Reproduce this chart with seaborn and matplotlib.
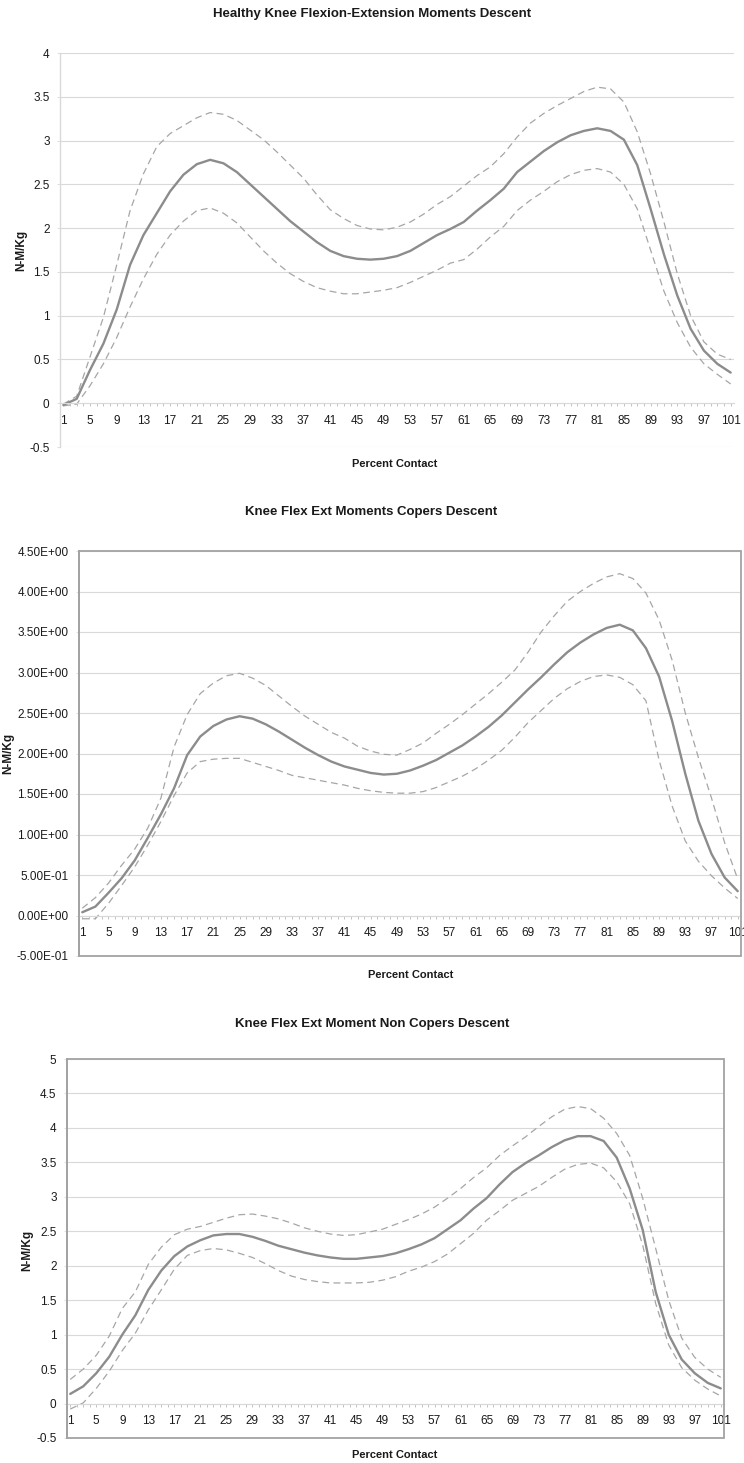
import numpy as np
import pandas as pd
import matplotlib
matplotlib.use("Agg")
import matplotlib.pyplot as plt
import seaborn as sns
from matplotlib.ticker import FixedLocator, MultipleLocator, FuncFormatter
from matplotlib.patches import Rectangle

sns.set_style("white")
plt.rcParams["font.family"] = ["Liberation Sans", "DejaVu Sans"]

# Percent of contact phase (every second sample)
percent = list(range(1, 102, 2))
x_tick_labels = list(range(1, 102, 4))

# Healthy group: mean and +/- 1 SD bands (N-M/Kg)
healthy_mean = [-0.02, 0.05, 0.38, 0.68, 1.07, 1.58, 1.92, 2.17, 2.42, 2.61,
                2.73, 2.78, 2.74, 2.64, 2.50, 2.36, 2.22, 2.08, 1.96, 1.84,
                1.74, 1.68, 1.65, 1.64, 1.65, 1.68, 1.74, 1.83, 1.92, 1.99,
                2.07, 2.20, 2.32, 2.45, 2.64, 2.76, 2.88, 2.98, 3.06, 3.11,
                3.14, 3.11, 3.01, 2.72, 2.22, 1.70, 1.23, 0.85, 0.60, 0.45,
                0.35]
healthy_upper = [-0.01, 0.08, 0.53, 0.98, 1.58, 2.20, 2.62, 2.93, 3.08, 3.17,
                 3.26, 3.32, 3.30, 3.23, 3.12, 3.01, 2.87, 2.72, 2.57, 2.38,
                 2.21, 2.11, 2.03, 1.99, 1.98, 2.01, 2.07, 2.16, 2.27, 2.36,
                 2.48, 2.60, 2.70, 2.85, 3.04, 3.20, 3.31, 3.40, 3.48, 3.56,
                 3.61, 3.59, 3.44, 3.10, 2.62, 2.07, 1.48, 1.00, 0.70, 0.56,
                 0.50]
healthy_lower = [-0.03, -0.01, 0.20, 0.45, 0.75, 1.10, 1.42, 1.70, 1.92, 2.08,
                 2.20, 2.23, 2.17, 2.06, 1.90, 1.74, 1.60, 1.48, 1.39, 1.32,
                 1.28, 1.25, 1.25, 1.27, 1.29, 1.32, 1.38, 1.45, 1.52, 1.60,
                 1.64, 1.76, 1.90, 2.02, 2.20, 2.32, 2.42, 2.53, 2.61, 2.66,
                 2.68, 2.64, 2.50, 2.22, 1.75, 1.28, 0.92, 0.64, 0.45, 0.33,
                 0.22]

# Copers group
copers_mean = [0.04, 0.11, 0.28, 0.46, 0.68, 0.96, 1.25, 1.57, 1.98, 2.21,
               2.34, 2.42, 2.46, 2.43, 2.36, 2.27, 2.17, 2.07, 1.98, 1.90,
               1.84, 1.80, 1.76, 1.74, 1.75, 1.79, 1.85, 1.92, 2.01, 2.10,
               2.21, 2.33, 2.47, 2.63, 2.79, 2.94, 3.10, 3.25, 3.37, 3.47,
               3.55, 3.59, 3.52, 3.30, 2.95, 2.40, 1.75, 1.17, 0.76, 0.47,
               0.30]
copers_upper = [0.09, 0.22, 0.40, 0.62, 0.82, 1.08, 1.45, 2.08, 2.48, 2.74,
                2.87, 2.96, 2.99, 2.93, 2.84, 2.71, 2.58, 2.46, 2.36, 2.26,
                2.19, 2.09, 2.03, 1.99, 1.98, 2.05, 2.13, 2.25, 2.36, 2.48,
                2.61, 2.74, 2.88, 3.03, 3.25, 3.50, 3.70, 3.88, 4.00, 4.10,
                4.18, 4.22, 4.16, 3.98, 3.65, 3.15, 2.50, 1.95, 1.45, 0.90,
                0.45]
copers_lower = [-0.04, -0.04, 0.15, 0.37, 0.60, 0.87, 1.16, 1.48, 1.76, 1.90,
                1.93, 1.94, 1.94, 1.89, 1.84, 1.79, 1.73, 1.70, 1.67, 1.64,
                1.61, 1.57, 1.54, 1.52, 1.51, 1.51, 1.53, 1.58, 1.65, 1.72,
                1.81, 1.92, 2.04, 2.20, 2.38, 2.53, 2.68, 2.80, 2.89, 2.95,
                2.97, 2.94, 2.85, 2.65, 1.92, 1.35, 0.92, 0.67, 0.49, 0.34,
                0.21]

# Non-copers group
noncopers_mean = [0.14, 0.25, 0.44, 0.68, 1.00, 1.28, 1.65, 1.93, 2.14, 2.28,
                  2.37, 2.44, 2.46, 2.46, 2.42, 2.36, 2.29, 2.24, 2.19, 2.15,
                  2.12, 2.10, 2.10, 2.12, 2.14, 2.18, 2.24, 2.31, 2.40, 2.53,
                  2.66, 2.83, 2.98, 3.18, 3.36, 3.49, 3.60, 3.72, 3.82, 3.88,
                  3.88, 3.81, 3.57, 3.12, 2.52, 1.62, 1.00, 0.64, 0.44, 0.30,
                  0.22]
noncopers_upper = [0.35, 0.50, 0.70, 0.98, 1.38, 1.62, 2.02, 2.27, 2.45, 2.53,
                   2.57, 2.63, 2.69, 2.74, 2.75, 2.72, 2.68, 2.62, 2.55, 2.50,
                   2.46, 2.44, 2.45, 2.49, 2.53, 2.60, 2.67, 2.75, 2.85, 2.98,
                   3.12, 3.28, 3.42, 3.60, 3.74, 3.87, 4.02, 4.16, 4.27, 4.31,
                   4.28, 4.14, 3.92, 3.60, 2.98, 2.25, 1.50, 0.95, 0.67, 0.50,
                   0.38]
noncopers_lower = [-0.08, 0.01, 0.22, 0.47, 0.77, 1.02, 1.36, 1.65, 1.95, 2.15,
                   2.22, 2.25, 2.23, 2.18, 2.12, 2.03, 1.93, 1.85, 1.80, 1.77,
                   1.75, 1.75, 1.75, 1.76, 1.79, 1.84, 1.92, 1.98, 2.06, 2.17,
                   2.32, 2.47, 2.66, 2.80, 2.95, 3.05, 3.15, 3.28, 3.40, 3.47,
                   3.49, 3.42, 3.22, 2.90, 2.30, 1.45, 0.85, 0.52, 0.34, 0.21,
                   0.11]

titles = ["Healthy Knee Flexion-Extension Moments Descent",
          "Knee Flex Ext Moments Copers Descent",
          "Knee Flex Ext Moment Non Copers Descent"]
x_title = "Percent Contact"
y_title = "N-M/Kg"

MEAN_COLOR = "#8c8c8c"
BAND_COLOR = "#a6a6a6"
GRID_COLOR = "#d9d9d9"
FRAME_COLOR = "#a3a3a3"
TEXT_COLOR = "#1a1a1a"

W, H = 744, 1463
fig = plt.figure(figsize=(W / 100, H / 100), dpi=100)


def px_axes(left, top, right, bottom):
    return fig.add_axes([left / W, 1 - bottom / H, (right - left) / W, (bottom - top) / H])


def px_text(x, y, s, **kw):
    fig.text(x / W, 1 - y / H, s, ha="center", va="center", color=TEXT_COLOR, **kw)


def draw_panel(ax, mean, upper, lower, ymax, fmt, framed):
    df = pd.DataFrame({"percent": percent, "mean": mean, "upper": upper, "lower": lower})
    for col in ("upper", "lower"):
        sns.lineplot(data=df, x="percent", y=col, ax=ax, color=BAND_COLOR,
                     linewidth=0.9, linestyle=(0, (5.5, 3.5)), errorbar=None)
    sns.lineplot(data=df, x="percent", y="mean", ax=ax, color=MEAN_COLOR,
                 linewidth=1.7, errorbar=None)
    ax.set_xlim(0.5, 101.5)
    ax.set_ylim(-0.5, ymax)
    ax.set_xlabel("")
    ax.set_ylabel("")
    ax.set_yticks(np.arange(-0.5, ymax + 0.01, 0.5))
    ax.yaxis.set_major_formatter(fmt)
    ax.grid(axis="y", color=GRID_COLOR, linewidth=0.8)
    ax.grid(axis="x", visible=False)
    ax.set_axisbelow(True)

    ax.spines["bottom"].set_position(("data", 0))
    ax.spines["bottom"].set_color(GRID_COLOR)
    ax.spines["bottom"].set_linewidth(0.8)
    ax.spines["top"].set_visible(False)
    ax.spines["right"].set_visible(False)
    if framed:
        ax.spines["left"].set_color(FRAME_COLOR)
        ax.spines["left"].set_linewidth(1.3)
        ax.add_patch(Rectangle((0, 0), 1, 1, transform=ax.transAxes, fill=False,
                               edgecolor=FRAME_COLOR, linewidth=1.3, clip_on=False,
                               zorder=5))
    else:
        ax.spines["left"].set_color(GRID_COLOR)
        ax.spines["left"].set_linewidth(1.0)

    ax.xaxis.set_major_locator(FixedLocator(x_tick_labels))
    ax.xaxis.set_minor_locator(MultipleLocator(1))
    ax.set_xticklabels([str(v) for v in x_tick_labels])
    ax.tick_params(axis="x", which="both", direction="out", length=2.2, width=0.6,
                   color="#b8b8b8", pad=6, labelsize=8.5, labelcolor=TEXT_COLOR)
    ax.tick_params(axis="y", which="major", direction="out", length=2.5, width=0.6,
                   color=GRID_COLOR, pad=5, labelsize=8.5, labelcolor=TEXT_COLOR)
    ax.tick_params(left=True, bottom=True, which="both")
    ax.tick_params(axis="y", which="minor", left=False)


plain_fmt = FuncFormatter(lambda v, p: f"{v:g}")
sci_fmt = FuncFormatter(lambda v, p: f"{v:.2E}")

# Panel 1: healthy
ax1 = px_axes(60, 53, 734, 447)
draw_panel(ax1, healthy_mean, healthy_upper, healthy_lower, 4.0, plain_fmt, framed=False)
px_text(372, 14, titles[0], fontsize=9.5, fontweight="bold")
px_text(395, 464, x_title, fontsize=8, fontweight="bold")
px_text(21, 250, y_title, fontsize=8.5, fontweight="bold", rotation=90)

# Panel 2: copers
ax2 = px_axes(79, 551, 741, 956)
draw_panel(ax2, copers_mean, copers_upper, copers_lower, 4.5, sci_fmt, framed=True)
px_text(371, 512, titles[1], fontsize=9.5, fontweight="bold")
px_text(411, 975, x_title, fontsize=8, fontweight="bold")
px_text(8, 753, y_title, fontsize=8.5, fontweight="bold", rotation=90)

# Panel 3: non-copers
ax3 = px_axes(67, 1059, 724, 1438)
draw_panel(ax3, noncopers_mean, noncopers_upper, noncopers_lower, 5.0, plain_fmt, framed=True)
px_text(372, 1024, titles[2], fontsize=9.5, fontweight="bold")
px_text(395, 1455, x_title, fontsize=8, fontweight="bold")
px_text(27, 1250, y_title, fontsize=8.5, fontweight="bold", rotation=90)

fig.savefig("out.png", dpi=100, facecolor="white")
